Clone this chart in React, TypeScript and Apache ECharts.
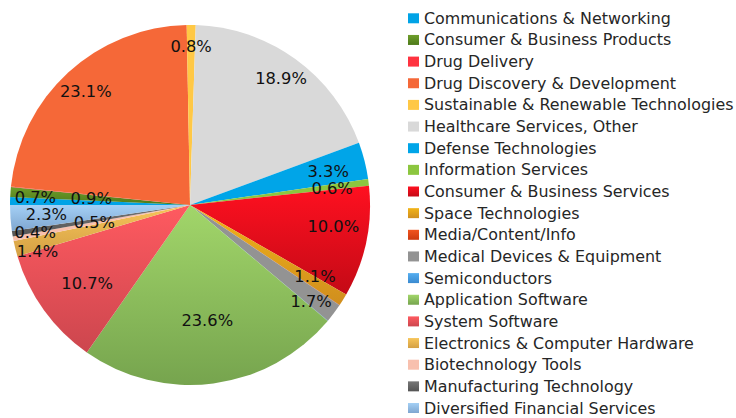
import React, { useEffect, useRef } from "react";
import * as echarts from "echarts";

const categories = [
  "Communications & Networking",
  "Consumer & Business Products",
  "Drug Delivery",
  "Drug Discovery & Development",
  "Sustainable & Renewable Technologies",
  "Healthcare Services, Other",
  "Defense Technologies",
  "Information Services",
  "Consumer & Business Services",
  "Space Technologies",
  "Media/Content/Info",
  "Medical Devices & Equipment",
  "Semiconductors",
  "Application Software",
  "System Software",
  "Electronics & Computer Hardware",
  "Biotechnology Tools",
  "Manufacturing Technology",
  "Diversified Financial Services",
];

// share of total, in percent
const shares = [0.7, 0.9, 0.03, 23.1, 0.8, 18.9, 3.3, 0.6, 10.0, 1.1, 0.03, 1.7, 0.03, 23.6, 10.7, 1.4, 0.4, 0.5, 2.3];

// slice colours: [top, bottom] (same = flat)
const colors: [string, string][] = [
  ["#00A3E6", "#00A3E6"],
  ["#6F9E2B", "#4D7A1A"],
  ["#FF3340", "#FF3340"],
  ["#F56838", "#F56838"],
  ["#FFC845", "#FFC845"],
  ["#D9D9D9", "#D9D9D9"],
  ["#00A5E8", "#00A5E8"],
  ["#8CC63F", "#8CC63F"],
  ["#FF1020", "#C40A16"],
  ["#F2B418", "#D08E1E"],
  ["#F25520", "#CC3A10"],
  ["#939393", "#939393"],
  ["#55AEF0", "#3A8AD0"],
  ["#A2D66A", "#76A44E"],
  ["#FF5A60", "#CC464E"],
  ["#F7C55A", "#D4A044"],
  ["#F8C0AE", "#F8C0AE"],
  ["#777777", "#555555"],
  ["#A4D0F5", "#7FA6D0"],
];

// label placement: distance from centre as a fraction of the radius (0 = hidden)
const labelRadius = [0.86, 0.55, 0, 0.855, 0.88, 0.864, 0.79, 0.795, 0.805, 0.8, 0, 0.86, 0, 0.65, 0.72, 0.885, 0.874, 0.54, 0.8];
// label placement: angular nudge from the slice's mid angle, degrees (clockwise)
const labelNudge = [1.7, -0.5, 0, 0, 0, 0, 0.6, 0.7, -3.4, -2, 0, 1.6, 0, -1, -1.7, -2.76, 0.54, -1, 0.16];

const CX = 190;
const CY = 205;
const R = 180;

export default function App() {
  const ref = useRef<HTMLDivElement>(null);
  useEffect(() => {
    if (!ref.current) return;
    const chart = echarts.init(ref.current, undefined, { renderer: "svg" });
    const total = shares.reduce((a, b) => a + b, 0);
    const mids: number[] = [];
    let cum = 0;
    shares.forEach((v) => {
      mids.push(((cum + v / 2) / total) * Math.PI * 2);
      cum += v;
    });
    const data = categories.map((name, i) => ({
      name,
      value: shares[i],
      itemStyle: {
        color:
          colors[i][0] === colors[i][1]
            ? colors[i][0]
            : new echarts.graphic.LinearGradient(0, 0, 0, 1, [
                { offset: 0, color: colors[i][0] },
                { offset: 1, color: colors[i][1] },
              ]),
      },
      label: { show: labelRadius[i] > 0 },
    }));
    chart.setOption({
      animation: false,
      legend: {
        orient: "vertical",
        left: 408,
        top: 10.3,
        padding: 0,
        itemWidth: 11,
        itemHeight: 10,
        itemGap: 5.65,
        itemTextGap: 3,
        icon: "rect",
        textStyle: {
          fontFamily: "DejaVu Sans",
          fontSize: 15.9,
          lineHeight: 16,
          color: "#262626",
        },
        data: categories,
      },
      series: [
        {
          type: "pie",
          center: [CX, CY],
          radius: R,
          startAngle: 180,
          clockwise: true,
          avoidLabelOverlap: false,
          label: {
            show: true,
            position: "inside",
            fontFamily: "DejaVu Sans",
            fontSize: 16.3,
            lineHeight: 15,
            color: "#111111",
            formatter: (p: any) => `${Number(p.value).toFixed(1)}%`,
          },
          labelLine: { show: false },
          emphasis: { disabled: true },
          labelLayout: (p: any) => {
            const i = p.dataIndex;
            const r = R * labelRadius[i];
            const a = mids[i] + (labelNudge[i] * Math.PI) / 180;
            return {
              x: CX - r * Math.cos(a),
              y: CY - r * Math.sin(a),
              align: "center",
              verticalAlign: "middle",
            };
          },
          data,
        },
      ],
    });
    return () => chart.dispose();
  }, []);
  return (
    <div
      ref={ref}
      style={{ position: "fixed", left: 0, top: 0, width: 736, height: 418, background: "#fff" }}
    />
  );
}
